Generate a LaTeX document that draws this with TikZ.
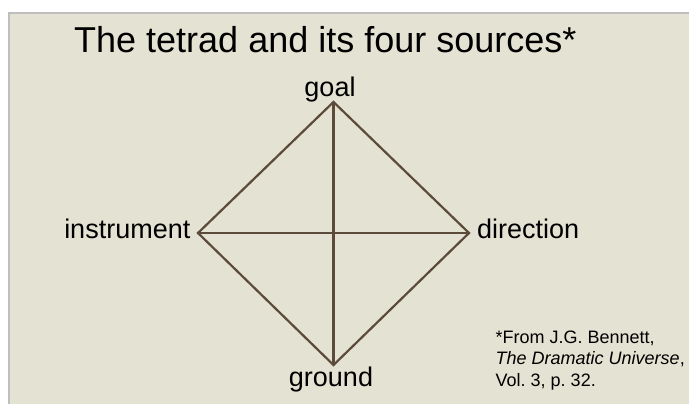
\documentclass[tikz,border=0pt]{standalone}
\usepackage{fontspec}
\setmainfont{Liberation Sans}
\frenchspacing

\definecolor{slidebg}{RGB}{228,226,210}
\definecolor{slideedge}{RGB}{190,190,190}
\definecolor{tetbrown}{RGB}{92,74,58}

\begin{document}
\begin{tikzpicture}[x=1pt,y=-1pt,
  edge/.style={draw=tetbrown,line width=2.2pt,line join=miter},
  lbl/.style={inner sep=0pt,font=\fontsize{27}{32}\selectfont}]
\useasboundingbox (0,0) rectangle (689,404);
% slide background
\fill[white] (0,0) rectangle (689,404);
\fill[slideedge] (7.5,12) rectangle (689,404);
\fill[slidebg] (9.5,14) rectangle (689,404);
% title
\node[inner sep=0pt,anchor=base west,font=\fontsize{36}{42}\selectfont] (title) at (74,53) {The tetrad and its four sources*};
% corners of the tetrad
\coordinate (top) at (333.5,102);
\coordinate (left) at (198,233);
\coordinate (right) at (469,233);
\coordinate (bottom) at (333.5,365);
% the four sources
\node[lbl,anchor=base] (goal) at (330,96) {goal};
\node[lbl,anchor=base east] (instrument) at (190.5,238) {instrument};
\node[lbl,anchor=base west] (direction) at (477,238) {direction};
\node[lbl,anchor=base] (ground) at (331,386) {ground};
% diamond and cross
\draw[edge] (top) -- (right) -- (bottom) -- (left) -- cycle;
\draw[edge] (top) -- (bottom);
\draw[edge] (left) -- (right);
% reference
\node[inner sep=0pt,anchor=base west,align=left,font=\fontsize{18}{21.5}\selectfont] (source) at (495.5,386)
  {*From J.G. Bennett,\\ \textit{The Dramatic Universe},\\ Vol. 3, p. 32.};
\end{tikzpicture}
\end{document}
